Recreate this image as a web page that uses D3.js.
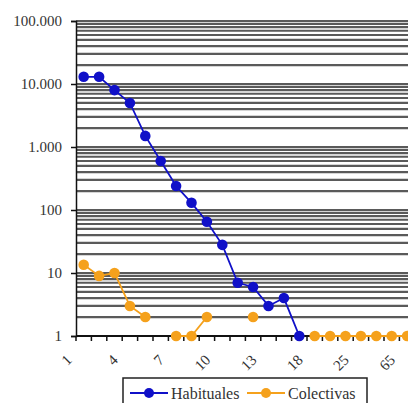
<!DOCTYPE html>
<html>
<head>
<meta charset="utf-8">
<script src="https://cdn.jsdelivr.net/npm/d3@7"></script>
<style>
  html, body { margin: 0; padding: 0; background: #fff; overflow: hidden; }
  svg text { font-family: "Liberation Serif", "Times New Roman", Times, Tinos, "DejaVu Serif", serif !important; fill: #333; }
</style>
</head>
<body>
<svg id="chart"></svg>
<script>
(function() {
    'use strict';

    var WIDTH = 408, HEIGHT = 403;
    var FONT = '"Liberation Serif", "Times New Roman", Times, Tinos, "DejaVu Serif", serif';

    // categories on the x axis (only every third one gets a label)
    var categories = ['1', '2', '3', '4', '5', '6', '7', '8', '9', '10', '11', '12', '13',
        '14', '16', '18', '20', '22', '25', '30', '40', '65'];
    var habituales = [13000, 13000, 8000, 5000, 1500, 600, 240, 130, 65, 28, 7, 6, 3, 4, 1];
    var colectivas = [13.5, 9, 10, 3, 2, null, 1, 1, 2, null, null, 2, null, null, null,
        1, 1, 1, 1, 1, 1, 1];
    var yTicks = [1, 10, 100, 1000, 10000, 100000];
    var yTickLabels = ['1', '10', '100', '1.000', '10.000', '100.000'];

    var series = [
        { name: 'Habituales', values: habituales, color: '#1010c8' },
        { name: 'Colectivas', values: colectivas, color: '#f5a11c' }
    ];

    var svg = d3.select('#chart').attr('width', WIDTH).attr('height', HEIGHT);

    var plot = { left: 76, top: 21, bottom: 336 };
    var step = 15.4;

    var x = d3.scaleBand()
        .domain(categories)
        .range([plot.left, plot.left + categories.length * step]);
    var y = d3.scaleLog()
        .domain([1, 100000])
        .range([plot.bottom, plot.top]);

    // minor grid lines: 1..9 in every decade
    var gridValues = [];
    d3.range(0, 5).forEach(function(e) {
        d3.range(2, 11).forEach(function(m) { gridValues.push(m * Math.pow(10, e)); });
    });

    svg.append('g').selectAll('line').data(gridValues).enter()
        .append('line')
            .attr('x1', plot.left).attr('x2', WIDTH)
            .attr('y1', d => y(d)).attr('y2', d => y(d))
            .attr('stroke', '#5a5a5a')
            .attr('stroke-width', 2.2);

    // y axis
    var yAxis = d3.axisLeft(y)
        .tickValues(yTicks)
        .tickFormat((d, i) => yTickLabels[i])
        .tickSize(5)
        .tickPadding(9);
    var gy = svg.append('g').attr('transform', 'translate(' + plot.left + ',0)').call(yAxis)
        .attr('font-family', FONT);
    gy.select('.domain').attr('stroke', '#111').attr('stroke-width', 1.5);
    gy.selectAll('.tick line').attr('stroke', '#111').attr('stroke-width', 1.5);
    gy.selectAll('.tick text').style('font-size', '15px').attr('fill', '#3a3a3a');

    // x axis with ticks on category boundaries
    svg.append('line')
        .attr('x1', plot.left).attr('x2', WIDTH)
        .attr('y1', plot.bottom).attr('y2', plot.bottom)
        .attr('stroke', '#111').attr('stroke-width', 1.8);

    var boundaries = categories.map(c => x(c));
    svg.append('g').selectAll('line').data(boundaries).enter()
        .append('line')
            .attr('x1', d => d).attr('x2', d => d)
            .attr('y1', plot.bottom).attr('y2', plot.bottom + 5)
            .attr('stroke', '#111').attr('stroke-width', 1.5);

    var labelled = categories.filter((c, i) => i % 3 === 0);
    svg.append('g').selectAll('text').data(labelled).enter()
        .append('text')
            .attr('transform', c => 'translate(' + (x(c) + x.bandwidth() / 2 - 11) + ',' + 361 + ') rotate(-45)')
            .attr('text-anchor', 'end')
            .attr('font-family', FONT)
            .style('font-size', '15px')
            .text(c => c);

    // series lines and markers
    series.forEach(function(s) {
        var pts = s.values.map((v, i) => ({ c: categories[i], v: v }));
        var line = d3.line()
            .defined(d => d.v !== null)
            .x(d => x(d.c) + x.bandwidth() / 2)
            .y(d => y(d.v));

        svg.append('path')
            .datum(pts)
            .attr('d', line)
            .attr('fill', 'none')
            .attr('stroke', s.color)
            .attr('stroke-width', 1.8);

        svg.append('g').selectAll('circle').data(pts.filter(d => d.v !== null)).enter()
            .append('circle')
                .attr('cx', d => x(d.c) + x.bandwidth() / 2)
                .attr('cy', d => y(d.v))
                .attr('r', 5.3)
                .attr('fill', s.color);
    });

    // legend
    var legend = svg.append('g');
    legend.append('rect')
        .attr('x', 123).attr('y', 378)
        .attr('width', 244).attr('height', 40)
        .attr('fill', '#fff')
        .attr('stroke', '#222').attr('stroke-width', 1.5);

    var items = legend.selectAll('g.item').data(series).enter()
        .append('g')
            .attr('class', 'item')
            .attr('transform', (d, i) => 'translate(' + (130 + i * 117) + ',393)');
    items.append('line')
        .attr('x1', 0).attr('x2', 38)
        .attr('stroke', d => d.color).attr('stroke-width', 1.8);
    items.append('circle')
        .attr('cx', 19).attr('r', 5)
        .attr('fill', d => d.color);
    items.append('text')
        .attr('x', 41).attr('dy', '0.35em')
        .attr('font-family', FONT)
        .style('font-size', '16px')
        .text(d => d.name);
})();
</script>
</body>
</html>
